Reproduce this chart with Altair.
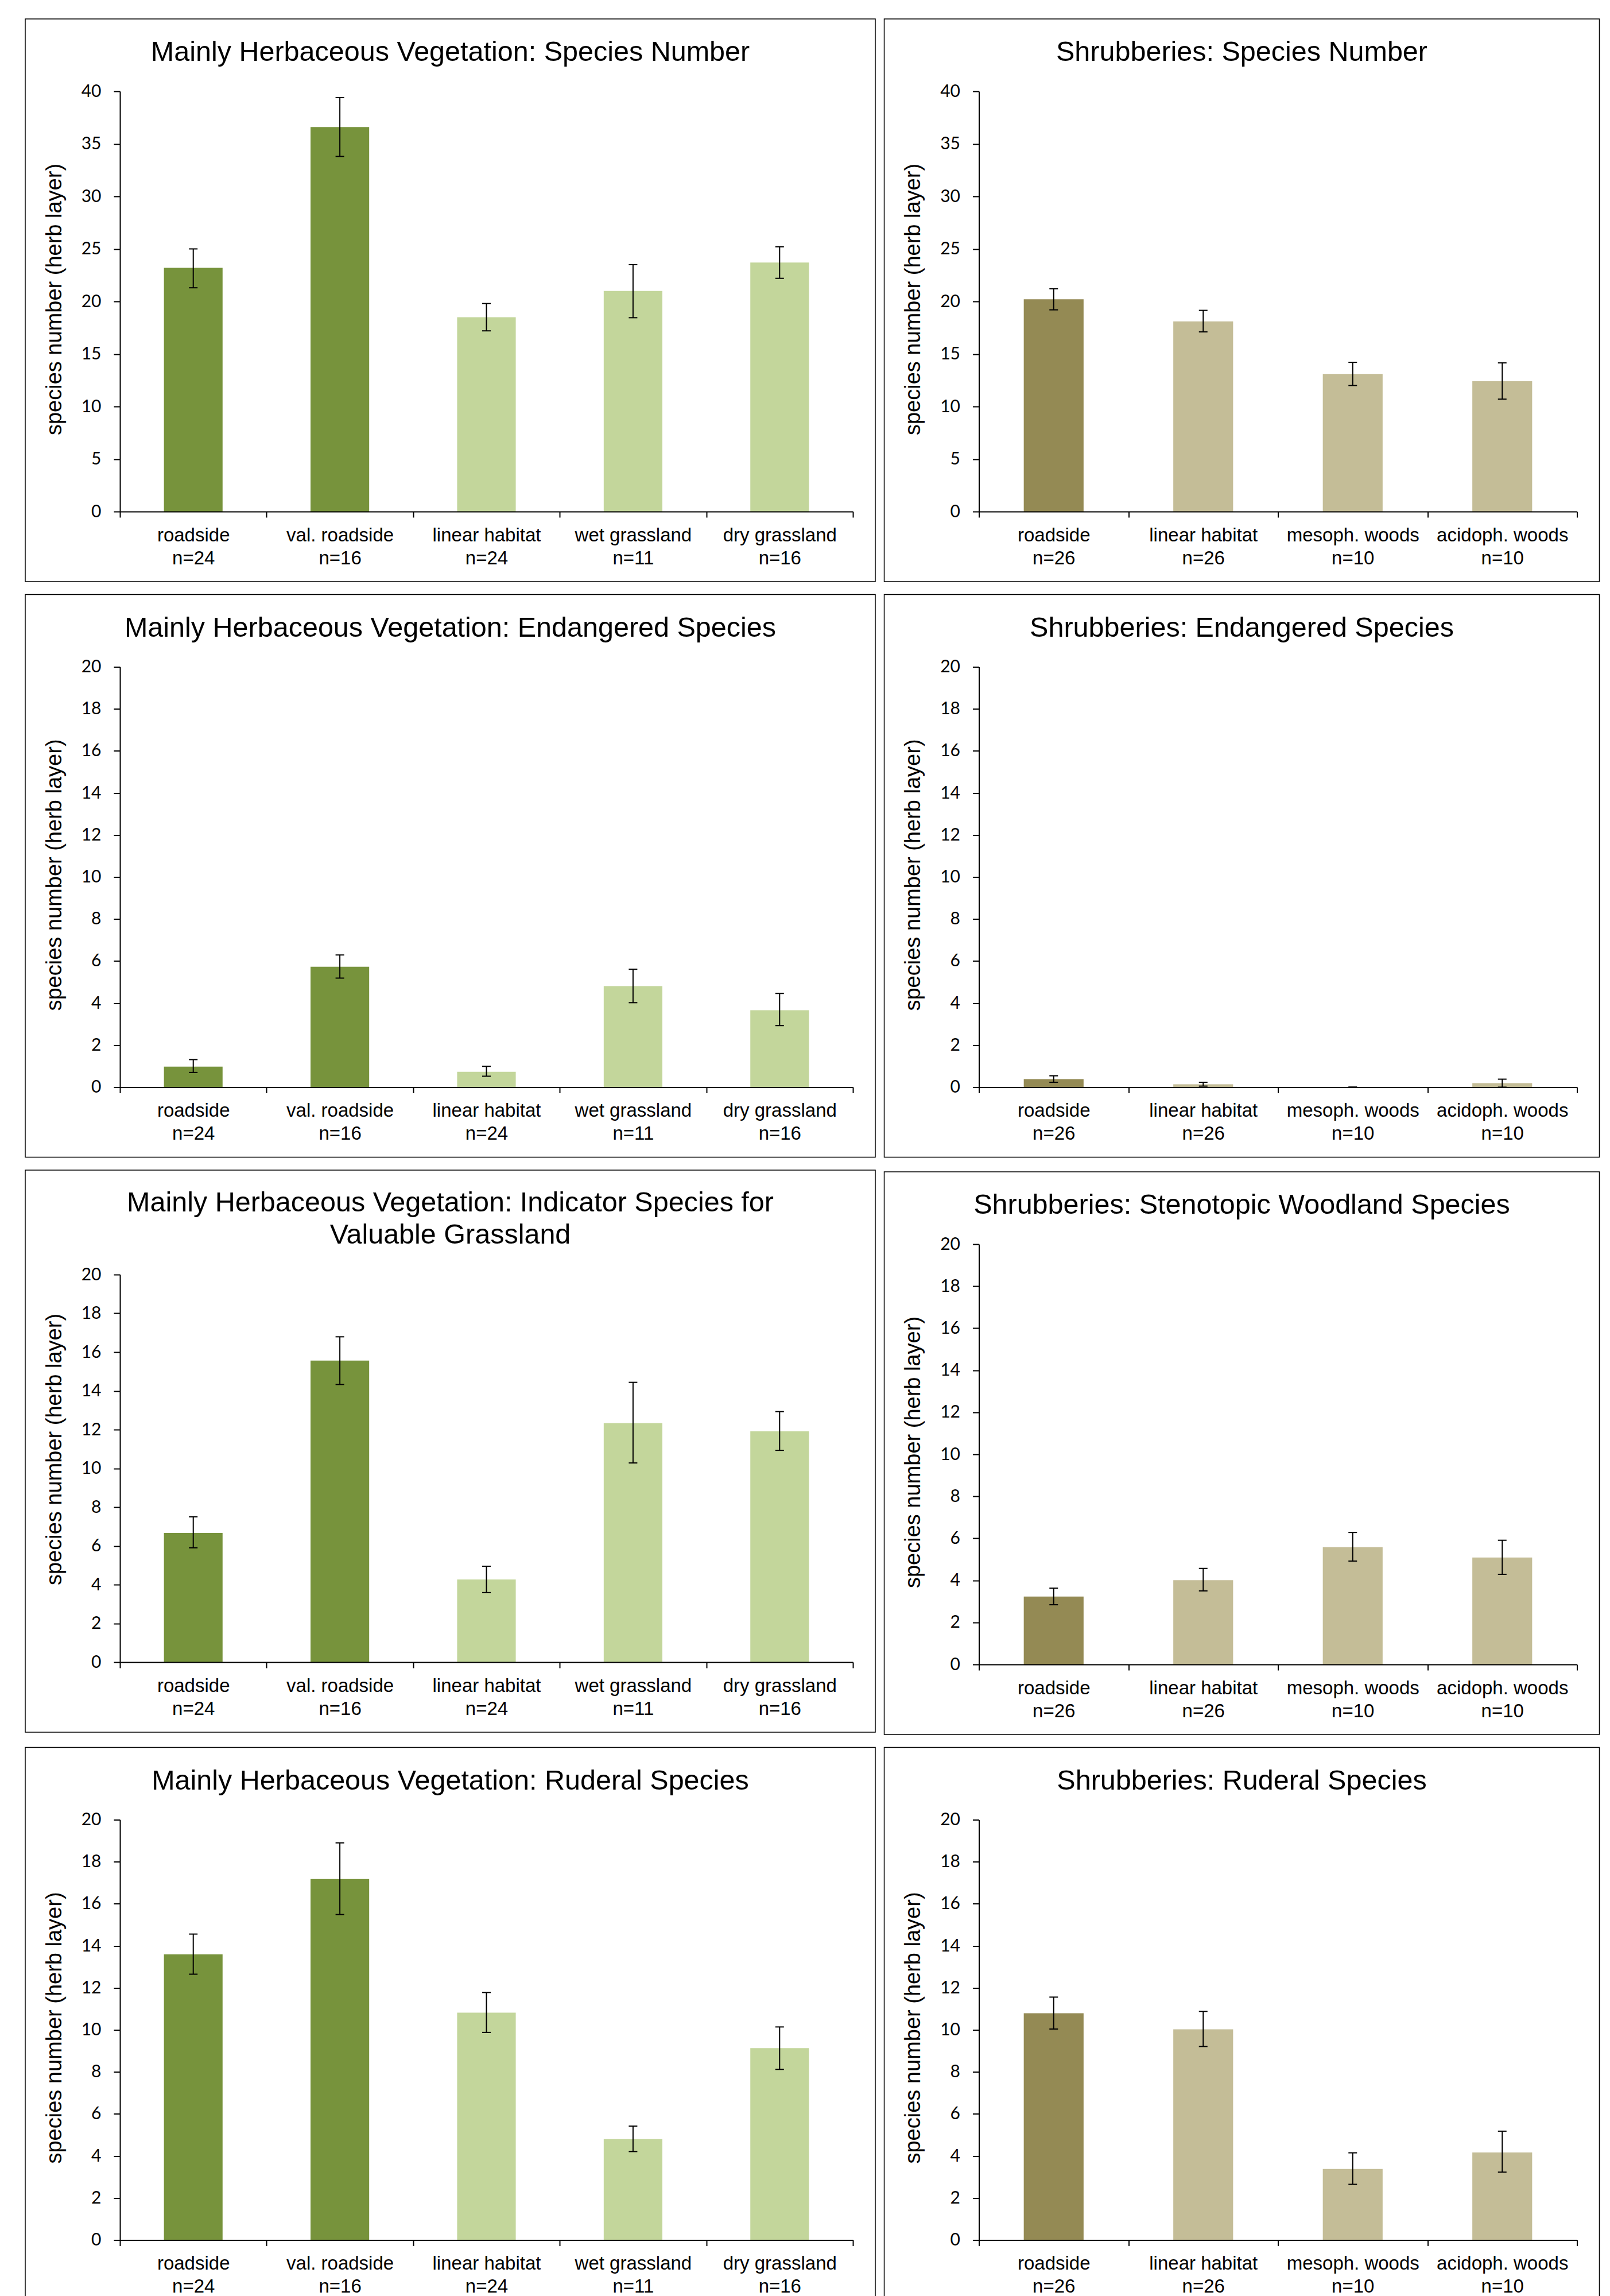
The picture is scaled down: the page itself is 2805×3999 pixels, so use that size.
import altair as alt
import pandas as pd

# ---------------- data ----------------
herb_cats = ["roadside", "val. roadside", "linear habitat", "wet grassland", "dry grassland"]
herb_n = [24, 16, 24, 11, 16]
shrub_cats = ["roadside", "linear habitat", "mesoph. woods", "acidoph. woods"]
shrub_n = [26, 26, 10, 10]

herb_colors = ["#77933C", "#77933C", "#C3D69B", "#C3D69B", "#C3D69B"]
shrub_colors = ["#948A54", "#C4BD97", "#C4BD97", "#C4BD97"]

# Mainly herbaceous vegetation: species number
herb_species_mean = [23.2, 36.6, 18.5, 21.0, 23.7]
herb_species_lo = [21.3, 33.8, 17.2, 18.45, 22.2]
herb_species_hi = [25.0, 39.4, 19.8, 23.5, 25.2]

# Shrubberies: species number
shrub_species_mean = [20.2, 18.1, 13.1, 12.4]
shrub_species_lo = [19.2, 17.1, 12.0, 10.7]
shrub_species_hi = [21.2, 19.15, 14.2, 14.15]

# Mainly herbaceous vegetation: endangered species
herb_endang_mean = [0.98, 5.73, 0.73, 4.81, 3.66]
herb_endang_lo = [0.70, 5.19, 0.52, 4.02, 2.93]
herb_endang_hi = [1.31, 6.29, 0.99, 5.61, 4.46]

# Shrubberies: endangered species
shrub_endang_mean = [0.38, 0.14, 0.0, 0.19]
shrub_endang_lo = [0.23, 0.05, 0.0, 0.0]
shrub_endang_hi = [0.54, 0.23, 0.0, 0.38]

# Mainly herbaceous vegetation: indicator species for valuable grassland
herb_indic_mean = [6.67, 15.56, 4.27, 12.33, 11.91]
herb_indic_lo = [5.9, 14.33, 3.59, 10.28, 10.93]
herb_indic_hi = [7.5, 16.79, 4.95, 14.44, 12.93]

# Shrubberies: stenotopic woodland species
shrub_steno_mean = [3.23, 4.01, 5.58, 5.09]
shrub_steno_lo = [2.84, 3.50, 4.92, 4.29]
shrub_steno_hi = [3.63, 4.57, 6.28, 5.91]

# Mainly herbaceous vegetation: ruderal species
herb_ruder_mean = [13.59, 17.18, 10.82, 4.80, 9.13]
herb_ruder_lo = [12.65, 15.49, 9.88, 4.21, 8.12]
herb_ruder_hi = [14.56, 18.9, 11.78, 5.42, 10.14]

# Shrubberies: ruderal species
shrub_ruder_mean = [10.79, 10.03, 3.38, 4.17]
shrub_ruder_lo = [10.04, 9.21, 2.65, 3.23]
shrub_ruder_hi = [11.56, 10.88, 4.15, 5.18]

Y_TITLE = "species number (herb layer)"
FONT = "Liberation Sans"
NUMFONT = "Lato"

W_LEFT = 1277
W_RIGHT = 1042
H = 732


def panel(title, cats, ns, colors, mean, lo, hi, ymax, ystep, W, H,
          range_top=0, title_y=-53, frame_top=-126, ytitle_y=362):
    labels = [f"{c}|n={n}" for c, n in zip(cats, ns)]
    df = pd.DataFrame({"cat": labels, "mean": mean, "lo": lo, "hi": hi, "color": colors})

    xaxis = alt.Axis(title=None, tickBand="extent", tickSize=10, tickWidth=2, tickColor="black",
                     domainColor="black", domainWidth=2,
                     labelExpr="split(datum.label, '|')", labelFont=FONT, labelFontSize=33,
                     labelColor="black", labelBaseline="alphabetic", labelPadding=41,
                     labelLineHeight=40, labelLimit=0, labelOverlap=False, labelAngle=0,
                     zindex=1)
    yaxis = alt.Axis(title=Y_TITLE, values=list(range(0, ymax + 1, ystep)), grid=False,
                     tickSize=11, tickWidth=2, tickColor="black",
                     domainColor="black", domainWidth=2,
                     labelFont=NUMFONT, labelFontSize=30, labelColor="black", labelPadding=22,
                     titleFont=FONT, titleFontSize=38, titleFontWeight="normal", titleColor="black",
                     titleX=-114, titleY=ytitle_y, titleAngle=270, titleBaseline="middle",
                     titleAlign="center", zindex=1)
    xs = alt.Scale(paddingInner=0, paddingOuter=0)
    ys = alt.Scale(domain=[0, ymax], nice=False, range=[H, range_top])
    x = alt.X("cat:N", sort=labels, scale=xs, axis=xaxis)

    bars = alt.Chart(df).mark_bar(width={"band": 0.4}).encode(
        x=x, y=alt.Y("mean:Q", scale=ys, axis=yaxis),
        color=alt.Color("color:N", scale=None))
    rules = alt.Chart(df).mark_rule(color="black", strokeWidth=2).encode(
        x=x, y=alt.Y("lo:Q", scale=ys, axis=yaxis), y2="hi:Q")
    cap_lo = alt.Chart(df).mark_tick(color="black", thickness=2, size=15, opacity=1).encode(
        x=x, y=alt.Y("lo:Q", scale=ys, axis=yaxis))
    cap_hi = alt.Chart(df).mark_tick(color="black", thickness=2, size=15, opacity=1).encode(
        x=x, y=alt.Y("hi:Q", scale=ys, axis=yaxis))

    one = pd.DataFrame({"k": [0]})
    frame = alt.Chart(one).mark_rect(fill="white", fillOpacity=0, stroke="black", strokeWidth=1.5).encode(
        x=alt.value(-165), x2=alt.value(W + 39), y=alt.value(frame_top), y2=alt.value(H + 122))
    cx = (-165 + W + 39) / 2
    ttl = alt.Chart(one).mark_text(font=FONT, fontSize=48.5, align="center", baseline="alphabetic",
                                   lineHeight=56, color="black").encode(
        x=alt.value(cx), y=alt.value(title_y), text=alt.value(title))
    return alt.layer(frame, bars, rules, cap_lo, cap_hi, ttl).properties(
        width=W, height=H,
        view=alt.ViewBackground(stroke="transparent", strokeWidth=0, strokeOpacity=0))


p1 = panel("Mainly Herbaceous Vegetation: Species Number", herb_cats, herb_n, herb_colors,
           herb_species_mean, herb_species_lo, herb_species_hi, 40, 5, W_LEFT, H)
p2 = panel("Shrubberies: Species Number", shrub_cats, shrub_n, shrub_colors,
           shrub_species_mean, shrub_species_lo, shrub_species_hi, 40, 5, W_RIGHT, H)
p3 = panel("Mainly Herbaceous Vegetation: Endangered Species", herb_cats, herb_n, herb_colors,
           herb_endang_mean, herb_endang_lo, herb_endang_hi, 20, 2, W_LEFT, H)
p4 = panel("Shrubberies: Endangered Species", shrub_cats, shrub_n, shrub_colors,
           shrub_endang_mean, shrub_endang_lo, shrub_endang_hi, 20, 2, W_RIGHT, H)
p5 = panel(["Mainly Herbaceous Vegetation: Indicator Species for", "Valuable Grassland"],
           herb_cats, herb_n, herb_colors,
           herb_indic_mean, herb_indic_lo, herb_indic_hi, 20, 2, W_LEFT, 728,
           range_top=53, title_y=-57, frame_top=-129, ytitle_y=357)
p6 = panel("Shrubberies: Stenotopic Woodland Species", shrub_cats, shrub_n, shrub_colors,
           shrub_steno_mean, shrub_steno_lo, shrub_steno_hi, 20, 2, W_RIGHT, H)
p7 = panel("Mainly Herbaceous Vegetation: Ruderal Species", herb_cats, herb_n, herb_colors,
           herb_ruder_mean, herb_ruder_lo, herb_ruder_hi, 20, 2, W_LEFT, H)
p8 = panel("Shrubberies: Ruderal Species", shrub_cats, shrub_n, shrub_colors,
           shrub_ruder_mean, shrub_ruder_lo, shrub_ruder_hi, 20, 2, W_RIGHT, H)

rows = [alt.hconcat(a, b, spacing=13.5) for a, b in [(p1, p2), (p3, p4), (p5, p6), (p7, p8)]]
chart = alt.vconcat(*rows, spacing=20.5).properties(
    padding={"left": 35, "top": 24, "right": 5, "bottom": 5}
).configure_view(stroke="transparent", strokeWidth=0, strokeOpacity=0).configure(background="white")

chart.save("out.html", embed_options={"renderer": "svg", "actions": False})
